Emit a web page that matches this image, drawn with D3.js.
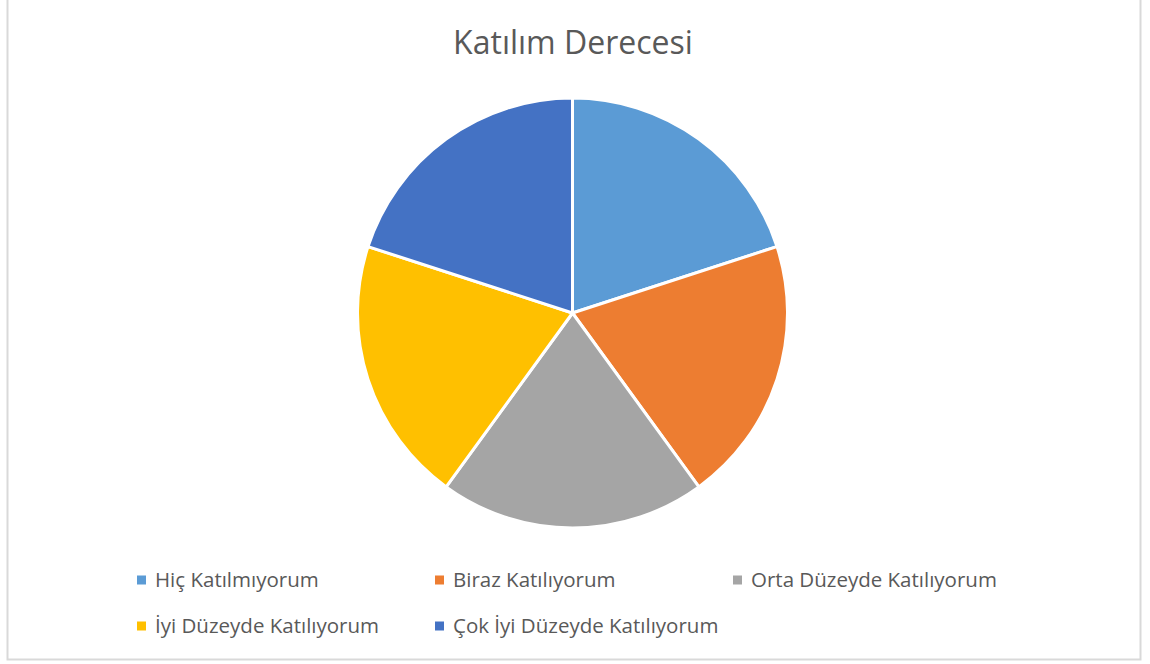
<!DOCTYPE html>
<html><head><meta charset="utf-8">
<script src="https://cdn.jsdelivr.net/npm/d3@7"></script>
<style>html,body{margin:0;padding:0;background:#fff;}svg{display:block;}</style>
</head><body>
<svg id="chart" width="1150" height="664"></svg>
<script>
const title = "Katılım Derecesi";
const categories = ["Hiç Katılmıyorum","Biraz Katılıyorum","Orta Düzeyde Katılıyorum","İyi Düzeyde Katılıyorum","Çok İyi Düzeyde Katılıyorum"];
const values = [1,1,1,1,1];
const colors = ["#5B9BD5","#ED7D31","#A5A5A5","#FFC000","#4472C4"];

const svg = d3.select("#chart");
const font = "'Open Sans', sans-serif";
const textColor = "#595959";

// frame
svg.append("path").attr("d","M7.5,0 V659.5 H1140.5 V0").attr("fill","none").attr("stroke","#d9d9d9").attr("stroke-width",2);

svg.append("text").attr("x",573).attr("y",54).attr("text-anchor","middle")
  .attr("font-family",font).attr("font-size",32).attr("fill",textColor).text(title);

const cx=572.5, cy=313, r=215;
const pie = d3.pie().sort(null).value(d=>d)(values);
const arc = d3.arc().innerRadius(0).outerRadius(r);
const g = svg.append("g").attr("transform",`translate(${cx},${cy})`);
g.selectAll("path").data(pie).join("path").attr("d",arc)
  .attr("fill",(d,i)=>colors[i]).attr("stroke","#fff").attr("stroke-width",3).attr("stroke-linejoin","round");

const legendPos = [[137,587],[435,587],[733,587],[137,633],[435,633]];
const lg = svg.append("g");
categories.forEach((c,i)=>{
  const [x,y]=legendPos[i];
  lg.append("rect").attr("x",x).attr("y",y-11.5).attr("width",9).attr("height",9).attr("fill",colors[i]);
  lg.append("text").attr("x",x+18).attr("y",y)
    .attr("font-family",font).attr("font-size",20.5).attr("fill",textColor).text(c);
});
</script>
</body></html>
